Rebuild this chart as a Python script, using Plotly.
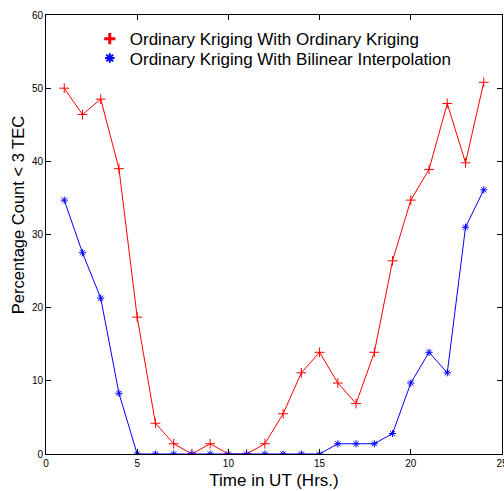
import plotly.graph_objects as go

hours = list(range(1, 25))
ok_ok = [50.0, 46.4, 48.5, 39.0, 18.7, 4.2, 1.4, 0.0, 1.4, 0.0, 0.0, 1.4,
         5.5, 11.1, 13.9, 9.7, 6.9, 13.9, 26.4, 34.7, 38.9, 47.9, 39.8, 50.8]
ok_bi = [34.7, 27.5, 21.3, 8.3, 0.0, 0.0, 0.0, 0.0, 0.0, 0.0, 0.0, 0.0,
         0.0, 0.0, 0.0, 1.4, 1.4, 1.4, 2.8, 9.7, 13.9, 11.1, 31.0, 36.1]
names = ["Ordinary Kriging With Ordinary Kriging",
         "Ordinary Kriging With Bilinear Interpolation"]
x_ticks = [0, 5, 10, 15, 20, 25]
y_ticks = [0, 10, 20, 30, 40, 50, 60]

fig = go.Figure()
fig.add_trace(go.Scatter(x=hours, y=ok_ok, mode="lines+markers", showlegend=False,
                         line=dict(color="red", width=1),
                         marker=dict(symbol="cross-thin-open", size=7, color="red",
                                     line=dict(color="red", width=1))))
fig.add_trace(go.Scatter(x=hours, y=ok_bi, mode="lines+markers", showlegend=False,
                         line=dict(color="blue", width=1),
                         marker=dict(symbol="asterisk-open", size=6, color="blue",
                                     line=dict(color="blue", width=1))))
# legend entries (markers only)
fig.add_trace(go.Scatter(x=[None], y=[None], mode="markers", name=names[0],
                         legend="legend",
                         marker=dict(symbol="cross-thin-open", size=8, color="red",
                                     line=dict(color="red", width=3))))
fig.add_trace(go.Scatter(x=[None], y=[None], mode="markers", name=names[1],
                         legend="legend2",
                         marker=dict(symbol="asterisk-open", size=8, color="blue",
                                     line=dict(color="blue", width=2))))

axis_common = dict(showline=True, linecolor="black", linewidth=1, mirror="ticks",
                   ticks="inside", ticklen=5, tickcolor="black", showgrid=False,
                   zeroline=False, automargin=False, ticklabeloverflow="allow",
                   tickfont=dict(family="Liberation Sans Narrow, Arial Narrow, Arial",
                                 size=10, color="black"))

leg_common = dict(xanchor="left", yanchor="middle", bgcolor="rgba(0,0,0,0)",
                  font=dict(size=17, color="black"), itemwidth=30, borderwidth=0)

fig.update_layout(
    width=504, height=491,
    margin=dict(l=46, r=2, t=15, b=37),
    paper_bgcolor="white", plot_bgcolor="white",
    font=dict(family="Liberation Sans, Arial, sans-serif", color="black"),
    xaxis=dict(range=[0, 25], tickvals=x_ticks, ticklabelstandoff=0,
               title=dict(text="Time in UT (Hrs.)", font=dict(size=17), standoff=6),
               **axis_common),
    yaxis=dict(range=[0, 60], tickvals=y_ticks, ticklabelstandoff=0,
               **axis_common),
    legend=dict(x=0.096, y=0.945, **leg_common),
    legend2=dict(x=0.096, y=0.901, **leg_common),
    annotations=[dict(text="Percentage Count < 3 TEC", textangle=-90,
                      xref="paper", yref="paper", x=-0.0614, y=0.544,
                      xanchor="center", yanchor="middle", showarrow=False,
                      font=dict(size=16.5, color="black"))],
)

fig.write_html("out.html", config={"displayModeBar": False},
               post_script="document.body.style.margin='0';document.body.style.padding='0';")
